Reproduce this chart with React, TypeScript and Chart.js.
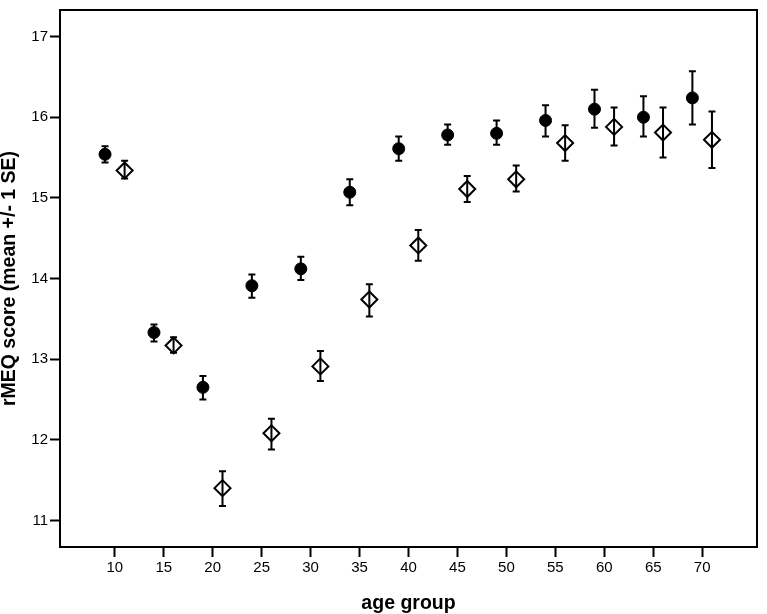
import React, { useEffect, useRef } from "react";
import { Chart, registerables } from "chart.js";

Chart.register(...registerables);

// Filled circles (group A)
const AGE_A = [9, 14, 19, 24, 29, 34, 39, 44, 49, 54, 59, 64, 69];
const MEAN_A = [15.54, 13.33, 12.65, 13.91, 14.12, 15.07, 15.61, 15.78, 15.8, 15.96, 16.1, 16.0, 16.24];
const UPPER_A = [15.64, 13.43, 12.79, 14.05, 14.27, 15.23, 15.76, 15.91, 15.96, 16.15, 16.34, 16.26, 16.57];
const LOWER_A = [15.44, 13.22, 12.5, 13.76, 13.98, 14.91, 15.46, 15.66, 15.66, 15.76, 15.87, 15.76, 15.91];

// Open diamonds (group B)
const AGE_B = [11, 16, 21, 26, 31, 36, 41, 46, 51, 56, 61, 66, 71];
const MEAN_B = [15.34, 13.17, 11.4, 12.08, 12.91, 13.74, 14.41, 15.11, 15.23, 15.68, 15.88, 15.81, 15.72];
const UPPER_B = [15.46, 13.27, 11.61, 12.26, 13.1, 13.93, 14.6, 15.27, 15.4, 15.9, 16.12, 16.12, 16.07];
const LOWER_B = [15.24, 13.08, 11.18, 11.88, 12.73, 13.53, 14.22, 14.95, 15.08, 15.46, 15.65, 15.5, 15.37];

const X_TICKS = [10, 15, 20, 25, 30, 35, 40, 45, 50, 55, 60, 65, 70];
const Y_TICKS = [11, 12, 13, 14, 15, 16, 17];

const X_TITLE = "age group";
const Y_TITLE = "rMEQ score (mean +/- 1 SE)";

const FONT = "'Liberation Sans', Arial, sans-serif";

const errorBarPlugin = {
  id: "errorBars",
  afterDatasetsDraw(chart: any) {
    const ctx = chart.ctx;
    const xs = chart.scales.x;
    const ys = chart.scales.y;
    const groups = [
      { x: AGE_A, up: UPPER_A, lo: LOWER_A },
      { x: AGE_B, up: UPPER_B, lo: LOWER_B },
    ];
    ctx.save();
    ctx.strokeStyle = "#000";
    ctx.lineWidth = 2;
    const cap = 3.5;
    groups.forEach((g) => {
      g.x.forEach((xv, i) => {
        const px = xs.getPixelForValue(xv);
        const pt = ys.getPixelForValue(g.up[i]);
        const pb = ys.getPixelForValue(g.lo[i]);
        ctx.beginPath();
        ctx.moveTo(px, pt);
        ctx.lineTo(px, pb);
        ctx.moveTo(px - cap, pt);
        ctx.lineTo(px + cap, pt);
        ctx.moveTo(px - cap, pb);
        ctx.lineTo(px + cap, pb);
        ctx.stroke();
      });
    });
    ctx.restore();
  },
  afterDraw(chart: any) {
    const { ctx, chartArea } = chart;
    ctx.save();
    ctx.strokeStyle = "#000";
    ctx.lineWidth = 2;
    ctx.strokeRect(chartArea.left, chartArea.top, chartArea.right - chartArea.left, chartArea.bottom - chartArea.top);
    ctx.restore();
  },
};

export default function App() {
  const ref = useRef<HTMLCanvasElement | null>(null);
  useEffect(() => {
    document.body.style.margin = "0";
    if (!ref.current) return;
    const chart = new Chart(ref.current, {
      type: "scatter",
      data: {
        datasets: [
          {
            label: "A",
            data: AGE_A.map((x, i) => ({ x, y: MEAN_A[i] })),
            pointStyle: "circle",
            pointRadius: 6,
            pointBackgroundColor: "#000",
            pointBorderColor: "#000",
            pointBorderWidth: 1,
          },
          {
            label: "B",
            data: AGE_B.map((x, i) => ({ x, y: MEAN_B[i] })),
            pointStyle: "rectRot",
            pointRadius: 8,
            pointBackgroundColor: "#fff",
            pointBorderColor: "#000",
            pointBorderWidth: 2,
          },
        ],
      },
      options: {
        animation: false,
        responsive: false,
        maintainAspectRatio: false,
        layout: { padding: { top: 5, right: 8, left: 0, bottom: 0 } },
        plugins: { legend: { display: false }, tooltip: { enabled: false } },
        scales: {
          x: {
            type: "linear",
            min: 4.4,
            max: 75.6,
            afterBuildTicks: (s: any) => {
              s.ticks = X_TICKS.map((v) => ({ value: v }));
            },
            afterFit: (s: any) => {
              s.height = 67;
              s.paddingLeft = 0;
              s.paddingRight = 0;
            },
            border: { display: false },
            grid: {
              drawOnChartArea: false,
              drawTicks: true,
              tickLength: 10,
              tickColor: "#000",
              tickWidth: 2,
            },
            ticks: {
              color: "#000",
              font: { family: FONT, size: 15 },
              padding: 2,
              maxRotation: 0,
              autoSkip: false,
            },
            title: {
              display: true,
              text: X_TITLE,
              color: "#000",
              font: { family: FONT, size: 19.5, weight: "bold", lineHeight: 1 },
              padding: { top: 0, bottom: 1 },
            },
          },
          y: {
            type: "linear",
            min: 10.67,
            max: 17.33,
            afterBuildTicks: (s: any) => {
              s.ticks = Y_TICKS.map((v) => ({ value: v }));
            },
            afterFit: (s: any) => {
              s.width = 60;
              s.paddingTop = 0;
              s.paddingBottom = 0;
            },
            border: { display: false },
            grid: {
              drawOnChartArea: false,
              drawTicks: true,
              tickLength: 10,
              tickColor: "#000",
              tickWidth: 2,
            },
            ticks: {
              color: "#000",
              font: { family: FONT, size: 15 },
              padding: 2,
              autoSkip: false,
            },
            title: {
              display: true,
              text: Y_TITLE,
              color: "#000",
              font: { family: FONT, size: 19.5, weight: "bold", lineHeight: 1 },
              padding: { top: 0, bottom: 0 },
            },
          },
        },
      },
      plugins: [errorBarPlugin],
    } as any);
    return () => chart.destroy();
  }, []);
  return (
    <div style={{ width: 767, height: 614 }}>
      <canvas ref={ref} width={767} height={614} style={{ display: "block" }} />
    </div>
  );
}
